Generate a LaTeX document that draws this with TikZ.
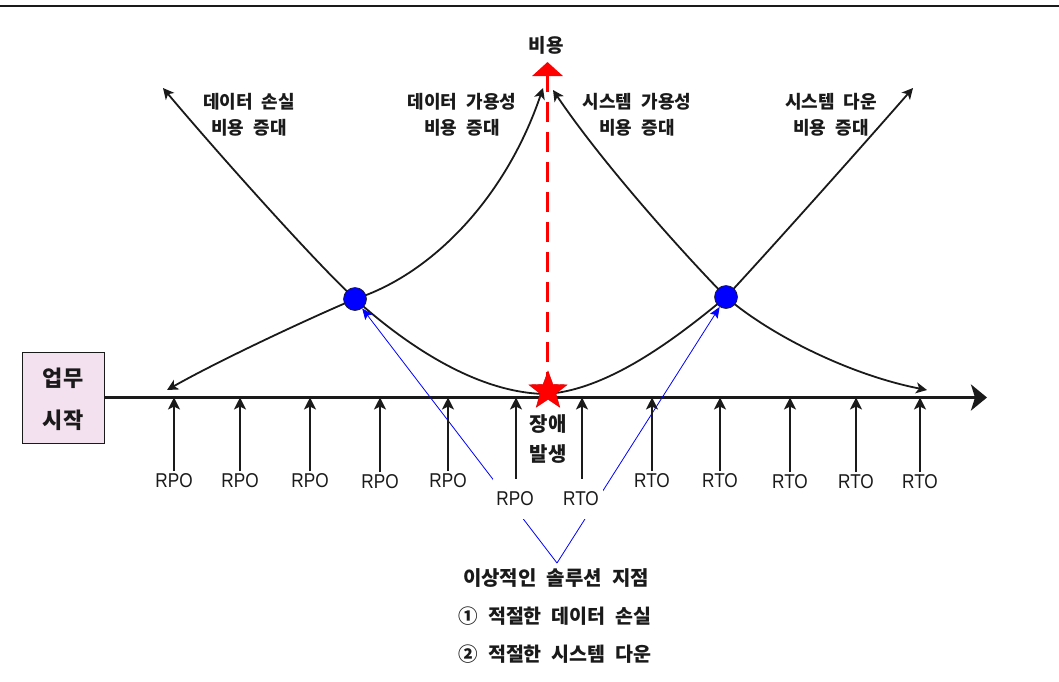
\documentclass[tikz,border=0pt]{standalone}
\usepackage{fontspec}
\setmainfont{Liberation Sans}
\newfontfamily\kr[WordSpace=2.2]{Noto Sans CJK KR}
\newfontfamily\lab[FakeStretch=0.86]{Liberation Sans}
\usetikzlibrary{arrows.meta,shapes.geometric}
\definecolor{boxpink}{HTML}{F4E1EF}
\definecolor{ink}{HTML}{1A1A1A}
\begin{document}
\begin{tikzpicture}[x=1pt,y=-1pt,
  kor/.style={font=\kr\bfseries\fontsize{18}{22}\selectfont, align=center, inner sep=1pt, text=ink},
  korbig/.style={font=\kr\bfseries\fontsize{20}{24}\selectfont, inner sep=1pt, text=ink},
  korbox/.style={font=\kr\bfseries\fontsize{22}{26}\selectfont, inner sep=1pt, text=ink},
  lbl/.style={font=\lab\fontsize{20}{24}\selectfont, text=ink, fill=white, inner sep=2.5pt},
  lbltall/.style={lbl, minimum height=40pt, minimum width=44pt},
  curveboth/.style={draw=ink, line width=1.8pt, arrows={Stealth[length=11pt,width=11pt,inset=3pt]-Stealth[length=11pt,width=11pt,inset=3pt]}},
  curveend/.style={draw=ink, line width=1.8pt, arrows={-Stealth[length=11pt,width=11pt,inset=3pt]}},
  uparrow/.style={draw=ink, line width=1.5pt, arrows={-Stealth[length=12pt,width=12pt,inset=3pt]}},
  axisline/.style={draw=ink, line width=3pt, arrows={-Stealth[length=16pt,width=26pt,inset=4pt]}},
  redarrow/.style={draw=red, line width=3.5pt, dash pattern=on 20pt off 10pt, arrows={-Triangle[length=14pt,width=30pt]}},
  bluearrow/.style={draw=blue, line width=0.8pt, arrows={-Stealth[length=11pt,width=9pt,inset=2pt]}},
  dot/.style={circle, fill=blue, draw=ink, line width=0.6pt, minimum size=23pt, inner sep=0pt}
]
\useasboundingbox (0,0) rectangle (1059,681);
\fill[white] (0,0) rectangle (1059,681);
% top rule
\draw[ink, line width=2.6pt] (0,6) -- (1059,6);

% start box
\node[draw=ink, fill=boxpink, line width=0.8pt, minimum width=82pt, minimum height=91pt, inner sep=0pt] (start) at (63,397.5) {};
\node[korbox] (t1) at (63,378) {업무};
\node[korbox] (t2) at (63,420) {시작};

% coordinates
\coordinate (axend) at (987,397.5);
\coordinate (axisY) at (0,397.5);
\coordinate (ctop) at (547.5,62);
\coordinate (m) at (546,394);
\coordinate (tA) at (163,88);
\coordinate (tB1) at (167,390);
\coordinate (tB2) at (543,88);
\coordinate (tC) at (913,88);
\coordinate (tD1) at (553,90);
\coordinate (tD2) at (927,390);
\coordinate (apex) at (557,563);
\coordinate (d1c) at (355,299);
\coordinate (d2c) at (726,297);

% axis
\draw[axisline] (start.east) -- (axend);

% red dashed cost arrow
\draw[redarrow] (547.5,392) -- (ctop);
\node[korbig, font=\kr\bfseries\fontsize{19}{23}\selectfont] (cost) at (546,45) {비용};

% curves
\draw[curveend] (m) .. controls (470,393) and (395,335) .. (d1c) .. controls (315,262) and (215,150) .. (tA);
\draw[curveboth] (tB1) .. controls (220,360) and (310,318) .. (d1c) .. controls (430,275) and (505,200) .. (tB2);
\draw[curveend] (m) .. controls (610,390) and (680,335) .. (d2c) .. controls (765,255) and (850,160) .. (tC);
\draw[curveboth] (tD1) .. controls (600,160) and (680,250) .. (d2c) .. controls (770,335) and (850,375) .. (tD2);

% star
\node[star, star points=5, star point ratio=2.4, fill=red, draw=red!85!black, line width=0.4pt, minimum size=40pt, inner sep=0pt] (star) at (548,391) {};

% dots
\node[dot] (d1) at (d1c) {};
\node[dot] (d2) at (d2c) {};

% curve labels
\node[kor] (l1a) at (249,102) {데이터 손실};
\node[kor] (l1b) at (249,128) {비용 증대};
\node[kor] (l2a) at (462,102) {데이터 가용성};
\node[kor] (l2b) at (462,128) {비용 증대};
\node[kor] (l3a) at (637,102) {시스템 가용성};
\node[kor] (l3b) at (637,128) {비용 증대};
\node[kor] (l4a) at (831,102) {시스템 다운};
\node[kor] (l4b) at (831,128) {비용 증대};

% failure label
\node[korbig] (f1) at (548,424) {장애};
\node[korbig] (f2) at (548,454) {발생};

% blue lines to ideal points
\draw[bluearrow] (apex) -- (d1);
\draw[bluearrow] (apex) -- (d2);

% RPO / RTO labels
\node[lbl] (r1) at (174,481) {RPO};
\node[lbl] (r2) at (240,481) {RPO};
\node[lbl] (r3) at (310,481) {RPO};
\node[lbl] (r4) at (380,482) {RPO};
\node[lbl] (r5) at (448,481) {RPO};
\node[lbltall] (r6) at (515,499) {RPO};
\node[lbltall] (r7) at (581,499) {RTO};
\node[lbl] (r8) at (652,481) {RTO};
\node[lbl] (r9) at (720,481) {RTO};
\node[lbl] (r10) at (790,482) {RTO};
\node[lbl] (r11) at (856,482) {RTO};
\node[lbl] (r12) at (920,482) {RTO};

\foreach \n in {r1,r2,r3,r4,r5,r8,r9,r10,r11,r12} {
  \draw[uparrow] (\n.north) -- (\n.north |- axisY);
}
\draw[uparrow] ([xshift=1pt]r6.north) -- ([xshift=1pt]r6.north |- axisY);
\draw[uparrow] ([xshift=1pt]r7.north) -- ([xshift=1pt]r7.north |- axisY);

% bottom text
\node[korbig] (b1) at (556,578) {이상적인 솔루션 지점};
\node[korbig, font=\kr\bfseries\fontsize{19.5}{23}\selectfont] (b2) at (555,616) {① 적절한 데이터 손실};
\node[korbig, font=\kr\bfseries\fontsize{19.5}{23}\selectfont] (b3) at (555,654) {② 적절한 시스템 다운};
\end{tikzpicture}
\end{document}
